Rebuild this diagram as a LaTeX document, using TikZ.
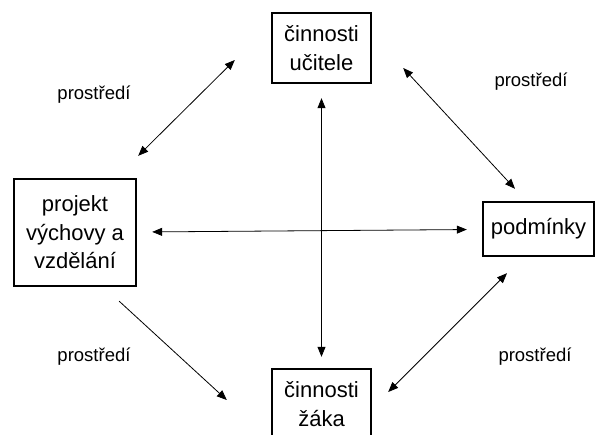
\documentclass[tikz,border=0pt]{standalone}
\usepackage{fontspec}
\setmainfont{Liberation Sans}
\usetikzlibrary{arrows.meta}
\tikzset{
box/.style = {rectangle, draw=black, line width=2.4pt, align=center, inner sep=0pt, minimum width = #1, font=\fontsize{22}{28.5}\selectfont},
box/.default = 99pt, % width of the box
lbl/.style = {font=\fontsize{18.5}{21}\selectfont},
arr/.style = {line width=0.8pt, {Triangle[length=10pt,width=8pt]}-{Triangle[length=10pt,width=8pt]}},
onearr/.style = {line width=0.8pt, -{Triangle[length=10pt,width=8pt]}},
}

\begin{document}
\begin{tikzpicture}[x=1pt, y=-1pt]
  \useasboundingbox (0,0) rectangle (596,434);
  \clip (0,0) rectangle (596,434);

  % Boxes
    \node[box, minimum height=70pt] (teacherBox) at (321.5,48) {činnosti\\učitele};
    \node[box=122pt, minimum height=107pt] (projectBox) at (75,232.5) {projekt\\výchovy a\\vzdělání};
    \node[box=111pt, minimum height=54pt] (condBox) at (538.5,229) {podmínky};
    \node[box, minimum height=70pt] (pupilBox) at (321.5,404) {činnosti\\žáka};

  % Labels
    \node[lbl] (envTL) at (94,95) {prostředí};
    \node[lbl] (envTR) at (531,82) {prostředí};
    \node[lbl] (envBL) at (94,357) {prostředí};
    \node[lbl] (envBR) at (535,357) {prostředí};

  % Lines
    \draw[arr, shorten <=14pt, shorten >=11pt] (teacherBox) -- (pupilBox);
    \draw[arr, shorten <=15pt, shorten >=15pt] (projectBox) -- (condBox);
    \draw[arr] ([shift={(1,-22)}]projectBox.north east) -- ([shift={(-36,12)}]teacherBox.west);
    \draw[arr] ([shift={(31,20)}]teacherBox.east) -- ([shift={(-23.5,-12)}]condBox.north);
    \draw[onearr] ([shift={(-18,14)}]projectBox.south east) -- ([shift={(-44,-4)}]pupilBox.west);
    \draw[arr] ([shift={(16,-12)}]pupilBox.east) -- ([shift={(-31.5,16)}]condBox.south);
  \end{tikzpicture}
\end{document}
